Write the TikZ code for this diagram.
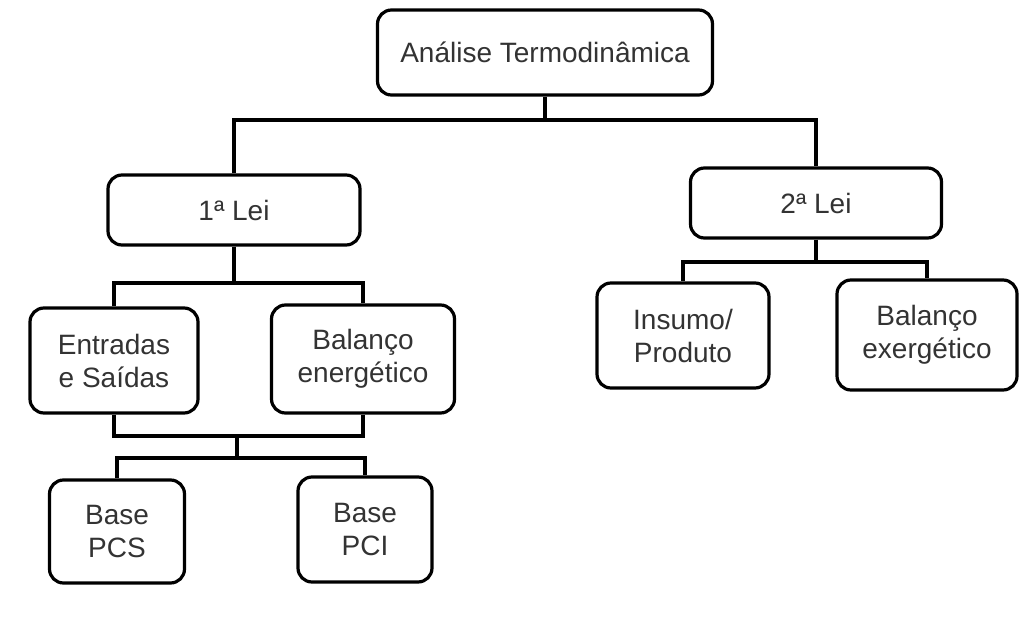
\documentclass[tikz,border=0pt]{standalone}
\usepackage{fontspec}
\setmainfont{Liberation Sans}
\begin{document}
\begin{tikzpicture}[x=1pt,y=-1pt,
  box/.style={draw=black, line width=3.2pt, rounded corners=14pt, fill=white,
    inner sep=0pt, align=center, text=black!80,
    font=\fontsize{28}{33}\selectfont},
  conn/.style={draw=black, line width=3.2pt}]
\useasboundingbox (0,0) rectangle (1020,624);
\fill[white] (0,0) rectangle (1020,624);
% nodes
\node[box, minimum width=335pt, minimum height=85pt] (top) at (545,52.5) {Análise Termodinâmica};
\node[box, minimum width=252pt, minimum height=70pt] (lei1) at (234,210) {1ª Lei};
\node[box, minimum width=251pt, minimum height=70pt] (lei2) at (816,203) {2ª Lei};
\node[box, minimum width=168pt, minimum height=105pt] (ent) at (114,360.5) {Entradas\\e Saídas};
\node[box, minimum width=183pt, minimum height=108pt] (bal) at (363,359) {Balanço\\energético};
\node[box, minimum width=172pt, minimum height=105pt] (ins) at (683,335.5) {Insumo/\\Produto};
\node[box, minimum width=180pt, minimum height=110pt] (bex) at (927,335) {Balanço\\exergético};
\node[box, minimum width=135pt, minimum height=103pt] (pcs) at (117,531.5) {Base\\PCS};
\node[box, minimum width=134pt, minimum height=105pt] (pci) at (365,529.5) {Base\\PCI};
% junctions
\coordinate (b1) at (545,120);
\coordinate (b2) at (234,283);
\coordinate (b3) at (816,262);
\coordinate (j1) at (237,436);
\coordinate (j2) at (237,458);
% connectors
\draw[conn] (top.south) -- (b1);
\draw[conn] (lei1.north) |- (b1) -| (lei2.north);
\draw[conn] (lei1.south) -- (b2);
\draw[conn] (ent.north) |- (b2) -| (bal.north);
\draw[conn] (lei2.south) -- (b3);
\draw[conn] (ins.north) |- (b3) -| (bex.north);
\draw[conn] (ent.south) |- (j1) -| (bal.south);
\draw[conn] (j1) -- (j2);
\draw[conn] (pcs.north) |- (j2) -| (pci.north);
\end{tikzpicture}
\end{document}
